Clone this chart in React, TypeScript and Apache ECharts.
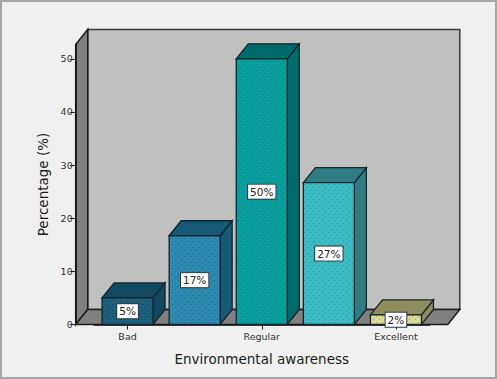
import React, { useEffect, useRef } from "react";
import * as echarts from "echarts";

const categories = ["Bad", "Insufficient", "Regular", "Good", "Excellent"];
const percentValues = [5, 16.7, 50, 26.7, 1.8];
const percentLabels = ["5%", "17%", "50%", "27%", "2%"];
const valueTicks = [0, 10, 20, 30, 40, 50];
const frontColors = ["#1d5f7c", "#2f8ab2", "#0a9e9e", "#3cbcc2", "#dcdc98"];
const shadeColors = ["#0f4a60", "#155a76", "#006b68", "#2f7d82", "#8f8d5e"];
const dotColors = ["#0c3e54", "#1a6186", "#057a78", "#1f9498", "#9a9a60"];

const FONT = "DejaVu Sans";
const DEPTH_X = 12;
const DEPTH_Y = 15;
const AXIS_PAD = 18.3;
const BAR_WIDTH = 51;
const EDGE = "#14242c";

function dotPattern(bg: string, dot: string) {
  const size = 6;
  const canvas = document.createElement("canvas");
  canvas.width = size;
  canvas.height = size;
  const ctx = canvas.getContext("2d")!;
  ctx.fillStyle = bg;
  ctx.fillRect(0, 0, size, size);
  ctx.fillStyle = dot;
  ctx.fillRect(1, 1, 1, 1);
  ctx.fillRect(4, 4, 1, 1);
  return { image: canvas, repeat: "repeat", imageWidth: size, imageHeight: size };
}

export default function App() {
  const ref = useRef<HTMLDivElement>(null);

  useEffect(() => {
    document.body.style.margin = "0";
    document.body.style.background = "#f0f0f0";
    const chart = echarts.init(ref.current!, undefined, { renderer: "svg" });
    const patterns = frontColors.map((c, i) => dotPattern(c, dotColors[i]));

    chart.setOption({
      animation: false,
      backgroundColor: "transparent",
      grid: { left: 94, top: 44.5, width: 335.5, height: 280 },
      xAxis: {
        type: "category",
        data: categories,
        name: "Environmental awareness",
        nameLocation: "middle",
        nameGap: 27,
        nameTextStyle: { fontFamily: FONT, fontSize: 13.5, color: "#1c1c1c", fontWeight: 500 },
        axisLine: { show: true, lineStyle: { color: "#111", width: 1.5 } },
        axisTick: { show: true, alignWithLabel: true, length: 5, lineStyle: { color: "#222" } },
        axisLabel: { fontFamily: FONT, fontSize: 9.5, color: "#333", margin: 7 },
        z: 3,
      },
      yAxis: {
        type: "value",
        min: 0,
        max: 52.7,
        offset: AXIS_PAD,
        splitLine: { show: false },
        name: "Percentage (%)",
        nameLocation: "middle",
        nameGap: 26,
        nameRotate: 90,
        nameTextStyle: { fontFamily: FONT, fontSize: 13.5, color: "#1c1c1c", fontWeight: 500 },
        axisLine: { show: true, lineStyle: { color: "#111", width: 1.5 } },
        axisTick: { show: true, length: 6, customValues: valueTicks, lineStyle: { color: "#222" } },
        axisLabel: { fontFamily: FONT, fontSize: 9.5, color: "#333", margin: 3, customValues: valueTicks },
        z: 3,
      },
      series: [
        {
          type: "custom",
          coordinateSystem: "cartesian2d",
          silent: true,
          z: 1,
          data: [[0, 0]],
          renderItem: (params: any) => {
            const c = params.coordSys;
            const l = c.x - AXIS_PAD;
            const r = c.x + c.width + AXIS_PAD;
            const t = c.y;
            const b = c.y + c.height;
            const wallStyle = { fill: "#c0c0c0", stroke: "#3a3a3a", lineWidth: 1.5 };
            const sideStyle = { fill: "#808080", stroke: "#1c1c1c", lineWidth: 1.5 };
            return {
              type: "group",
              children: [
                {
                  type: "rect",
                  shape: { x: l + DEPTH_X, y: t - DEPTH_Y, width: r - l, height: b - t },
                  style: wallStyle,
                },
                {
                  type: "polygon",
                  shape: { points: [[l, t], [l + DEPTH_X, t - DEPTH_Y], [l + DEPTH_X, b - DEPTH_Y], [l, b]] },
                  style: sideStyle,
                },
                {
                  type: "polygon",
                  shape: { points: [[l, b], [l + DEPTH_X, b - DEPTH_Y], [r + DEPTH_X, b - DEPTH_Y], [r, b]] },
                  style: sideStyle,
                },
              ],
            };
          },
        },
        {
          type: "custom",
          coordinateSystem: "cartesian2d",
          silent: true,
          z: 5,
          data: percentValues.map((v, i) => [i, v]),
          renderItem: (params: any, api: any) => {
            const i = api.value(0);
            const top = api.coord([i, api.value(1)]);
            const base = api.coord([i, 0]);
            const l = top[0] - BAR_WIDTH / 2;
            const r = top[0] + BAR_WIDTH / 2;
            const t = top[1];
            const b = base[1];
            const border = { stroke: EDGE, lineWidth: 1.3 };
            return {
              type: "group",
              children: [
                {
                  type: "polygon",
                  shape: { points: [[r, t], [r + DEPTH_X, t - DEPTH_Y], [r + DEPTH_X, b - DEPTH_Y], [r, b]] },
                  style: { fill: shadeColors[i], ...border },
                },
                {
                  type: "polygon",
                  shape: { points: [[l, t], [l + DEPTH_X, t - DEPTH_Y], [r + DEPTH_X, t - DEPTH_Y], [r, t]] },
                  style: { fill: shadeColors[i], ...border },
                },
                {
                  type: "rect",
                  shape: { x: l, y: t, width: r - l, height: b - t },
                  style: { fill: patterns[i], ...border },
                },
                {
                  type: "text",
                  z2: 10,
                  style: {
                    text: percentLabels[i],
                    x: top[0],
                    y: (t + b) / 2,
                    align: "center",
                    verticalAlign: "middle",
                    fontFamily: FONT,
                    fontSize: 10.5,
                    fill: "#222",
                    backgroundColor: "#ffffff",
                    borderColor: "#2c3c3c",
                    borderWidth: 1,
                    padding: [2, 2, 1, 2],
                  },
                },
              ],
            };
          },
        },
      ],
    });
    return () => chart.dispose();
  }, []);

  return (
    <div style={{ position: "relative", width: 497, height: 379, overflow: "hidden", background: "#f0f0f0" }}>
      <div ref={ref} style={{ width: 497, height: 379 }} />
      <div
        style={{
          position: "absolute",
          left: 0,
          top: 0,
          width: 497,
          height: 379,
          boxSizing: "border-box",
          border: "2px solid #a6a6a6",
          pointerEvents: "none",
        }}
      />
    </div>
  );
}
